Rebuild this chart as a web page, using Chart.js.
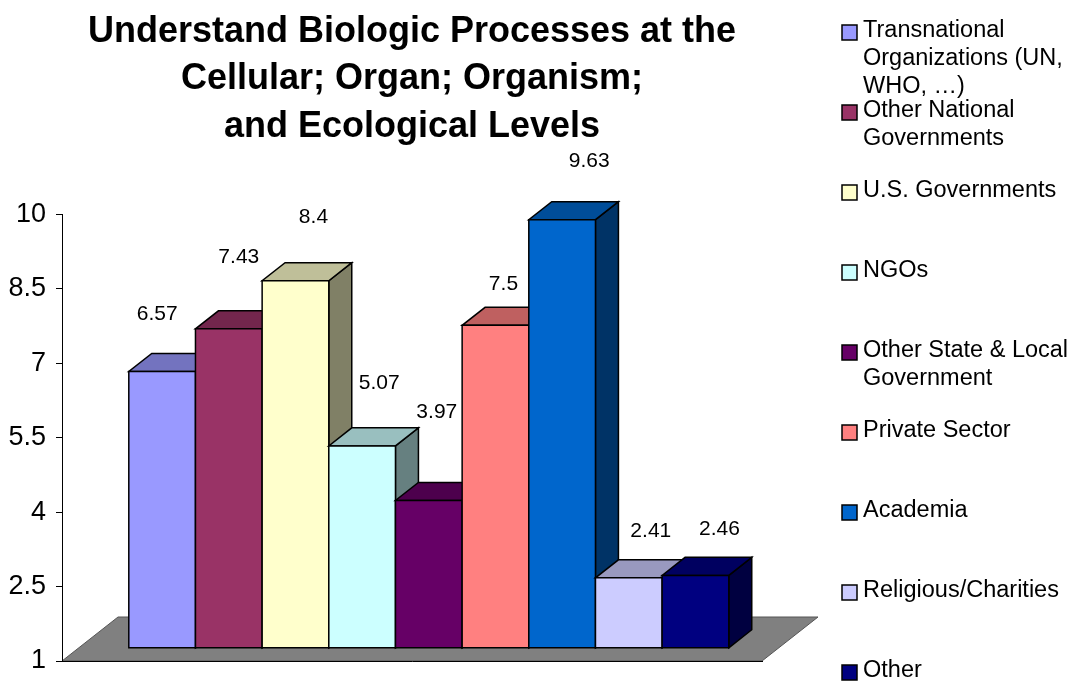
<!DOCTYPE html>
<html>
<head>
<meta charset="utf-8">
<script src="https://cdn.jsdelivr.net/npm/chart.js@4.4.1/dist/chart.umd.min.js"></script>
<style>
  html, body { margin: 0; padding: 0; background: #fff; }
</style>
</head>
<body>
<canvas id="chart" width="1076" height="681"></canvas>
<script>
// ---- data ----
const titleLines = ['Understand Biologic Processes at the', 'Cellular; Organ; Organism;', 'and Ecological Levels'];
const sectors = [
  'Transnational Organizations (UN, WHO, …)',
  'Other National Governments',
  'U.S. Governments',
  'NGOs',
  'Other State & Local Government',
  'Private Sector',
  'Academia',
  'Religious/Charities',
  'Other'
];
const scores = [6.57, 7.43, 8.4, 5.07, 3.97, 7.5, 9.63, 2.41, 2.46];
const yTicks = [1, 2.5, 4, 5.5, 7, 8.5, 10];

// ---- styling ----
const FONT = '"Liberation Sans", Arial, sans-serif';
const colors = ['#9999FF', '#993366', '#FFFFCC', '#CCFFFF', '#660066', '#FF8080', '#0066CC', '#CCCCFF', '#000080'];
// value label placement relative to the front-top centre of each bar
const labelNudge = [[-5, -52], [10, -66], [18, -58], [17, -57], [8, -82], [8, -35], [27, -53], [22, -41], [24, -40]];

// oblique depth of the floor, and where the bar row sits inside it
const FLOOR_DX = 56, FLOOR_DY = -44;
const ROW_FRONT = 0.3, ROW_DEPTH = 0.41;

Chart.defaults.font.family = FONT;
Chart.defaults.color = '#000';

function shade(hex, k) {
  const n = parseInt(hex.slice(1), 16);
  const r = Math.round(((n >> 16) & 255) * k);
  const g = Math.round(((n >> 8) & 255) * k);
  const b = Math.round((n & 255) * k);
  return `rgb(${r},${g},${b})`;
}

function poly(ctx, pts, fill) {
  ctx.beginPath();
  ctx.moveTo(pts[0][0], pts[0][1]);
  for (let i = 1; i < pts.length; i++) ctx.lineTo(pts[i][0], pts[i][1]);
  ctx.closePath();
  ctx.fillStyle = fill;
  ctx.fill();
  ctx.stroke();
}

function barBox(chart, i) {
  const el = chart.getDatasetMeta(i).data[0];
  const p = el.getProps(['x', 'y', 'width'], true);
  const yScale = chart.scales.y;
  const base = yScale.getPixelForValue(yScale.min);
  const ox = FLOOR_DX * ROW_FRONT, oy = FLOOR_DY * ROW_FRONT;
  return {
    left: p.x - p.width / 2 + ox,
    right: p.x + p.width / 2 + ox,
    top: p.y + oy,
    bottom: base + oy,
    cx: p.x + ox
  };
}

function wrapText(ctx, text, maxWidth) {
  const words = text.split(' ');
  const lines = [];
  let line = '';
  words.forEach(w => {
    const test = line ? line + ' ' + w : w;
    if (line && ctx.measureText(test).width > maxWidth) {
      lines.push(line);
      line = w;
    } else {
      line = test;
    }
  });
  if (line) lines.push(line);
  return lines;
}

// floor + 3D bars drawn from the bar elements' own geometry
const bars3d = {
  id: 'bars3d',
  beforeDatasetsDraw(chart) {
    const ctx = chart.ctx;
    const a = chart.chartArea;
    ctx.save();
    ctx.lineJoin = 'miter';

    // floor
    ctx.strokeStyle = '#555';
    ctx.lineWidth = 1;
    poly(ctx, [
      [a.left, a.bottom], [a.right, a.bottom],
      [a.right + FLOOR_DX, a.bottom + FLOOR_DY], [a.left + FLOOR_DX, a.bottom + FLOOR_DY]
    ], '#808080');

    // bars, left to right
    const dx = FLOOR_DX * ROW_DEPTH, dy = FLOOR_DY * ROW_DEPTH;
    ctx.strokeStyle = '#000';
    ctx.lineWidth = 1.5;
    scores.forEach((v, i) => {
      const b = barBox(chart, i);
      const c = colors[i];
      poly(ctx, [[b.right, b.bottom], [b.right + dx, b.bottom + dy], [b.right + dx, b.top + dy], [b.right, b.top]], shade(c, 0.5));
      poly(ctx, [[b.left, b.top], [b.right, b.top], [b.right + dx, b.top + dy], [b.left + dx, b.top + dy]], shade(c, 0.75));
      poly(ctx, [[b.left, b.top], [b.right, b.top], [b.right, b.bottom], [b.left, b.bottom]], c);
    });
    ctx.restore();
    return false;
  },
  afterDraw(chart) {
    const ctx = chart.ctx;
    ctx.save();

    // value labels
    ctx.fillStyle = '#000';
    ctx.font = '21px ' + FONT;
    ctx.textAlign = 'center';
    ctx.textBaseline = 'alphabetic';
    scores.forEach((v, i) => {
      const b = barBox(chart, i);
      ctx.fillText(String(v), b.cx + labelNudge[i][0], b.top + labelNudge[i][1]);
    });

    // legend
    const lx = chart.chartArea.right + 80;
    const base0 = 37, step = 80, lineGap = 28;
    ctx.font = '23.5px ' + FONT;
    ctx.textAlign = 'left';
    ctx.lineWidth = 1.5;
    ctx.strokeStyle = '#000';
    sectors.forEach((name, i) => {
      const by = base0 + i * step;
      ctx.fillStyle = colors[i];
      ctx.fillRect(lx, by - 12, 15, 15);
      ctx.strokeRect(lx, by - 12, 15, 15);
      ctx.fillStyle = '#000';
      wrapText(ctx, name, 214).forEach((line, j) => {
        ctx.fillText(line, lx + 21, by + j * lineGap);
      });
    });
    ctx.restore();
  }
};

new Chart(document.getElementById('chart'), {
  type: 'bar',
  data: {
    labels: [''],
    datasets: sectors.map((name, i) => ({
      label: name,
      data: [scores[i]],
      backgroundColor: colors[i]
    }))
  },
  options: {
    responsive: false,
    animation: false,
    events: [],
    categoryPercentage: 600 / 700,
    barPercentage: 1,
    layout: { padding: { top: 0, right: 314, bottom: 0, left: 0 } },
    plugins: {
      legend: { display: false },
      tooltip: { enabled: false },
      title: {
        display: true,
        text: titleLines,
        fullSize: false,
        color: '#000',
        font: { size: 36, weight: 'bold', lineHeight: 1.32 },
        padding: { top: 8, bottom: 64 }
      }
    },
    scales: {
      x: {
        grid: { display: false, drawTicks: false },
        border: { display: true, color: '#000', width: 1, z: 1 },
        ticks: { display: false },
        afterFit: s => { s.height = 20; }
      },
      y: {
        min: 1,
        max: 10,
        afterBuildTicks: s => { s.ticks = yTicks.map(v => ({ value: v })); },
        grid: { drawOnChartArea: false, color: '#000', tickLength: 6 },
        border: { display: true, color: '#000', width: 1, z: 1 },
        ticks: { padding: 10, color: '#000', font: { size: 27 } },
        afterFit: s => { s.width = 62; s.paddingTop = 0; s.paddingBottom = 0; }
      }
    }
  },
  plugins: [bars3d]
});
</script>
</body>
</html>
